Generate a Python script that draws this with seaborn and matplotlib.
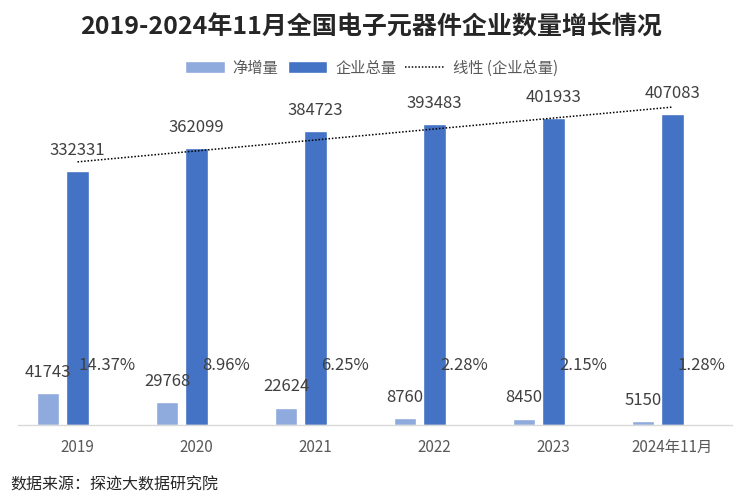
import numpy as np
import pandas as pd
import seaborn as sns
import matplotlib.pyplot as plt
from matplotlib.patches import Patch
from matplotlib.lines import Line2D

# 数据
years = ['2019', '2020', '2021', '2022', '2023', '2024年11月']
net_increase = [41743, 29768, 22624, 8760, 8450, 5150]
total = [332331, 362099, 384723, 393483, 401933, 407083]
growth = ['14.37%', '8.96%', '6.25%', '2.28%', '2.15%', '1.28%']

sns.set_style("white")
plt.rcParams['font.family'] = ['Noto Sans CJK SC', 'DejaVu Sans']

light = '#8FAADC'
dark = '#4472C4'
grey = '#404040'

df = pd.DataFrame({
    'year': years * 3,
    'value': net_increase + total + [0] * len(years),
    'series': ['净增量'] * 6 + ['企业总量'] * 6 + ['增长率'] * 6,
})

fig = plt.figure(figsize=(7.43, 5.0), dpi=100)
ax = fig.add_axes([0.0242, 0.15, 0.961, 0.65])

sns.barplot(data=df, x='year', y='value', hue='series', order=years,
            hue_order=['净增量', '企业总量', '增长率'],
            palette=[light, dark, (1, 1, 1, 0)], width=0.74, gap=0.23,
            legend=False, ax=ax, saturation=1)

# 趋势线
xs = np.arange(len(years))
k, b = np.polyfit(xs, total, 1)
ax.plot(xs, k * xs + b, color='black', linestyle=(0, (1, 1.2)), linewidth=1.1)

off = 0.247
for i in range(len(years)):
    ax.annotate(str(net_increase[i]), (i - off, net_increase[i]), xytext=(0, 15),
                textcoords='offset points', ha='center', va='center',
                fontsize=12, color=grey)
    ax.annotate(str(total[i]), (i, total[i]), xytext=(0, 15),
                textcoords='offset points', ha='center', va='center',
                fontsize=12, color=grey)
    ax.text(i + off, 78500, growth[i], ha='center', va='center',
            fontsize=12, color=grey)

ax.set_xlim(-0.5, 5.5)
ax.set_ylim(0, 425400)
ax.set_yticks([])
ax.set_xlabel('')
ax.set_ylabel('')
for s in ['top', 'right', 'left']:
    ax.spines[s].set_visible(False)
ax.spines['bottom'].set_color('#D9D9D9')
ax.spines['bottom'].set_linewidth(1)
ax.tick_params(axis='x', length=0, pad=10, labelsize=11, labelcolor='#595959')

handles = [Patch(facecolor=light), Patch(facecolor=dark),
           Line2D([0], [0], color='black', linestyle=(0, (1, 1.2)), linewidth=1.1)]
fig.legend(handles, ['净增量', '企业总量', '线性 (企业总量)'], loc='center',
           bbox_to_anchor=(0.5, 1 - 68 / 500), ncol=3, frameon=False,
           fontsize=11, labelcolor='#595959', handlelength=2.6, handleheight=0.8,
           columnspacing=0.6, handletextpad=0.5)

fig.text(0.5, 1 - 28 / 500, '2019-2024年11月全国电子元器件企业数量增长情况',
         ha='center', va='center', fontsize=18, fontweight='bold', color='#262626')
fig.text(10 / 743, 1 - 485 / 500, '数据来源：探迹大数据研究院',
         ha='left', va='center', fontsize=11.5, color='#262626')

fig.savefig('out.png', dpi=100)
